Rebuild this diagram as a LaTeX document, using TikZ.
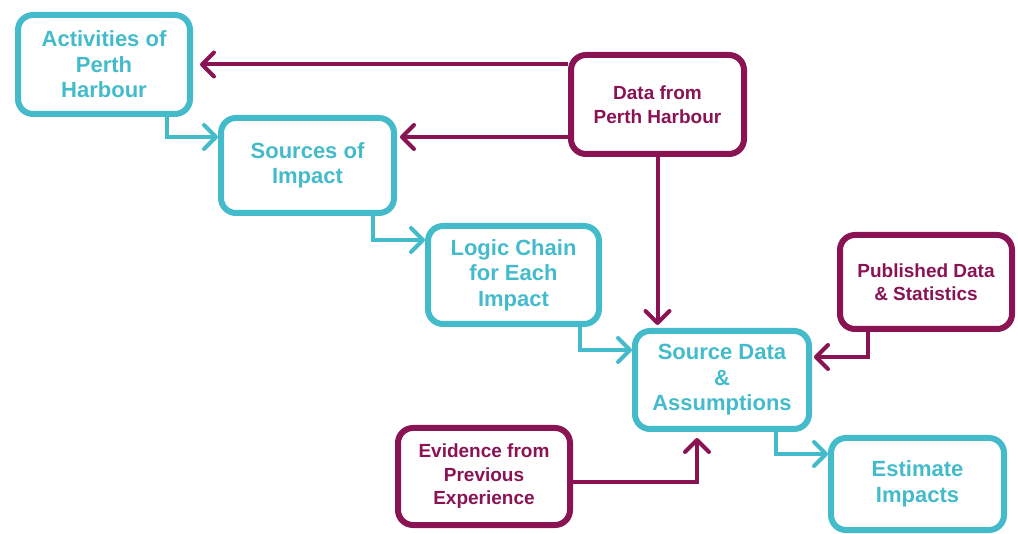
\documentclass[tikz,border=0pt]{standalone}
\usepackage{fontspec}
\setmainfont{Liberation Sans}
\usetikzlibrary{arrows.meta,calc}
\definecolor{tealc}{RGB}{68,187,203}
\definecolor{plum}{RGB}{138,19,84}
\begin{document}
\begin{tikzpicture}[x=1pt,y=-1pt,
 tbox/.style={draw=tealc, line width=6pt, rounded corners=15pt, align=center, text=tealc, font=\bfseries\fontsize{22}{25.5}\selectfont, inner sep=0pt},
 pbox/.style={draw=plum, line width=6pt, rounded corners=15pt, align=center, text=plum, font=\bfseries\fontsize{19}{23.5}\selectfont, inner sep=0pt},
 tarr/.style={draw=tealc, line width=4pt, -{Straight Barb[length=12pt,width=24pt,round]}},
 parr/.style={draw=plum, line width=4pt, -{Straight Barb[length=12pt,width=24pt,round]}}]
\useasboundingbox (0,0) rectangle (1018,534);
\node[tbox, minimum width=172pt, minimum height=99pt] (act) at (104,64.5) {Activities of\\Perth\\Harbour};
\node[tbox, minimum width=173pt, minimum height=95pt] (src) at (307.5,165.5) {Sources of\\Impact};
\node[tbox, minimum width=171pt, minimum height=98pt] (logic) at (513.5,275) {Logic Chain\\for Each\\Impact};
\node[pbox, minimum width=173pt, minimum height=99pt] (data) at (657.5,104.5) {Data from\\Perth Harbour};
\node[tbox, minimum width=174pt, minimum height=98pt] (sd) at (722,380) {Source Data\\\&\\Assumptions};
\node[pbox, minimum width=172pt, minimum height=94pt] (pub) at (926,282) {Published Data\\\& Statistics};
\node[pbox, minimum width=172pt, minimum height=97pt] (evid) at (484,476.5) {Evidence from\\Previous\\Experience};
\node[tbox, minimum width=173pt, minimum height=92pt] (est) at (917.5,484) {Estimate\\Impacts};

\draw[parr] (data.west |- act.east) -- ([xshift=7pt]act.east);
\coordinate (s1) at ([xshift=3pt,yshift=-22pt]src.north east);
\draw[parr] (data.west |- s1) -- (s1);
\draw[parr] (data.south) -- ([yshift=3pt]data.south |- sd.north);
\draw[tarr] ([xshift=-26pt]act.south east) |- ([yshift=-22pt]src.north west);
\draw[tarr] ([xshift=-24pt]src.south east) |- ([yshift=-17pt]logic.north west);
\draw[tarr] ([xshift=-22pt]logic.south east) |- ([yshift=-22pt]sd.north west);
\draw[parr] ([xshift=31pt]pub.south west) |- ([yshift=-29pt,xshift=2pt]sd.north east);
\draw[parr] ([yshift=-5.5pt]evid.east) -| ([xshift=-25pt,yshift=-6pt]sd.south);
\draw[tarr] ([xshift=-36pt]sd.south east) |- ([yshift=-19pt]est.north west);
\end{tikzpicture}
\end{document}
